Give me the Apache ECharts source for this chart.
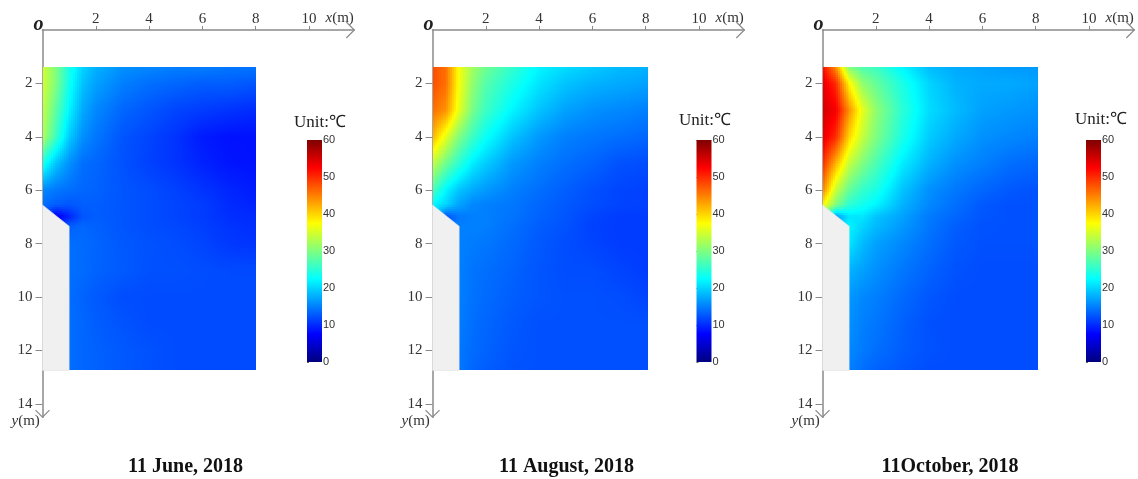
<!DOCTYPE html>
<html><head><meta charset="utf-8">
<style>html,body{margin:0;padding:0;background:#fff}#c{width:1138px;height:479px}</style>
<script src="https://cdn.jsdelivr.net/npm/echarts@6/dist/echarts.min.js"></script>
</head><body><div id="c"></div>
<script>
// Sampled positions (m)
const yRows = [1.37,2,3,4,5,6,6.55,7,7.35,8,9,10,11,12,12.75];
const xColsJune = [0,0.5,1,1.5,2,3,4,5,6,7,8];
const xColsAug  = [0,0.5,1,1.5,2,3,4,5,6,7,8.08];
const xColsOct  = [0,0.5,1,1.5,2,3,4,5,6,7,8.08];
// Temperature (°C); rows follow yRows, columns follow xCols
const tempJune = [
[35,30,24,20,18,16,15.5,15,15,14.5,14.5],
[35,30,23.5,19,17,15,14,13.5,13,13,12.5],
[34,28,22,17.5,15.5,13.5,12.5,11.5,11,10.5,10],
[33,26,19.5,16,14.5,12.5,11.5,10.5,9,8.5,8.5],
[24,19,16,14,13.5,12.3,11.3,10.5,9.5,8.7,8.5],
[15.5,14.5,14,13.5,13.3,12.5,12,11.3,10.5,9.7,9],
[14,13,12.5,13,13,12.5,12,11.5,11,10,9.5],
[13,6.5,9.5,12.5,13,12.5,12,11.5,11,10.2,10],
[13,10.5,13,13.5,13.2,12.5,12,11.7,11.2,10.5,10.2],
[14,14,14,13.8,13.4,12.7,12.3,12,11.5,10.8,10.5],
[14,14,14,13.8,13.3,12.8,12.2,12.2,12,11.8,11.8],
[14.2,14.2,14,13.3,12.8,12,11.9,11.9,11.9,11.9,11.9],
[14.2,14.2,14,13.5,13,12.4,11.9,11.9,11.9,11.9,11.9],
[14.3,14.3,14,13.5,13.2,12.7,12.3,11.9,11.9,11.9,11.9],
[14.3,14.3,14,13.5,13.2,12.7,12.2,11.9,11.9,11.9,11.9]];
const tempAug = [
[48,46,37,32,29,25.5,22,20.5,19.5,18.5,18],
[48,46,37,31,27.5,24,21,19,18,17.5,17],
[46,44,36,29.5,26,22,19,17,16,15.5,15],
[42,36,30,26,23,19,16.5,15,14.5,14,13.5],
[34,29,25,21.5,19.5,16.5,15,14,13.3,12.3,12],
[27,22,19,17.5,16.5,15,14,13,12.2,11.5,11.3],
[22,20,17,15.5,15,14.5,13.5,12.7,12,11.5,11.3],
[22,12,14.5,15,15,14.3,13.3,12.5,11.5,11,11],
[20,15,15,15,15,14,13,12.3,11.3,11,11],
[15,15,15,14.8,14.5,13.7,12.7,12,11.5,11,11],
[15,15,15,14.3,14,13.3,12.5,12,12,11.5,11],
[15,15,15,14.2,13.8,13,12.5,12.2,12.2,12,11.5],
[14.8,14.8,14.8,14,13.5,12.7,12.2,12.2,12.2,12.2,12.2],
[14.8,14.8,14.5,13.8,13.3,12.5,12.2,12.2,12.2,12.2,12.2],
[14.8,14.8,14.5,13.5,13,12.3,12.2,12.2,12.2,12.2,12.2]];
const tempOct = [
[52,44,30,27,26,22,18.5,17.5,17,16.5,16.5],
[54,50,38,31,28.5,24,20,18,17.5,17.5,17],
[55,53,44,36,31,25,20.5,18.5,17,16.5,16],
[54,50,40,34,30,24,19.5,17.5,16,15.5,15],
[50,42,34,30,27,21.5,18,16,15,14,13.5],
[45,34,28.5,25.5,24,19,16,14.5,13.5,12.7,12.3],
[38,30,25,23.5,22,18,15.5,14,12.7,12.2,12.2],
[30,16,21,21,19,17,14.7,13.5,12.5,12.2,12.2],
[25,20,22,20,18.5,16.5,14.5,13,12.3,12.2,12.2],
[21,21,21,18.5,17,15.5,14,12.7,12.2,12.2,12.2],
[20,20,18,17,16,14.5,13.3,12.3,12,12,12],
[18,18,16.5,15.5,15,13.7,12.6,12,12,12,12],
[17,17,16,15,14.5,13.2,12.2,12,12,12,12],
[16.5,16.5,15.5,14.7,14,13,12.3,12,12,12,12],
[16.5,16.5,15,14,13.3,12.6,12,12,12,12,12]];
const wallOutline = [[0,6.55],[1,7.35],[1,12.75],[0,12.75]];
const xTicks = [2,4,6,8,10];
const yTicks = [2,4,6,8,10,12,14];
const colorbarTicks = [0,10,20,30,40,50,60];
const captions = ['11 June, 2018','11 August, 2018','11October, 2018'];

const xMax = 11.7, yMax = 14.5;
const panels = [
 {xs:xColsJune,t:tempJune,left:42.5,bar:307,cap:185.5,unitX:319,unitY:122},
 {xs:xColsAug,t:tempAug,left:432.5,bar:696.5,cap:566.5,unitX:704,unitY:120},
 {xs:xColsOct,t:tempOct,left:822.5,bar:1086,cap:950,unitX:1100,unitY:119}
];

const jet = [[0,[0,0,127]],[7.5,[0,0,255]],[22.5,[0,255,255]],[37.5,[255,255,0]],[52.5,[255,0,0]],[60,[127,0,0]]];
function jetColor(v){
  v=Math.max(0,Math.min(60,v));
  for(let i=1;i<jet.length;i++){
    if(v<=jet[i][0]){
      const a=jet[i-1],b=jet[i],t=(v-a[0])/(b[0]-a[0]);
      return 'rgb('+a[1].map((c,k)=>Math.round(c+(b[1][k]-c)*t)).join(',')+')';
    }
  }
  return 'rgb(127,0,0)';
}
const axisGray='#8a8a8a', textGray='#333', serif='"Liberation Serif","Times New Roman",serif', sans='"Liberation Sans",Arial,sans-serif';
const grid=[],xAxis=[],yAxis=[],series=[],graphic=[];
panels.forEach((p,i)=>{
  const g=i*2, gb=i*2+1;
  grid.push({left:p.left,top:30,width:xMax*26.65,height:yMax*26.7,containLabel:false});
  grid.push({left:p.bar,top:140,width:15,height:222,containLabel:false});
  xAxis.push({type:'value',gridIndex:g,position:'top',min:0,max:xMax,splitLine:{show:false},
    axisLine:{show:true,onZero:false,lineStyle:{color:axisGray,width:1.5}},
    axisTick:{show:true,customValues:xTicks,length:4,lineStyle:{color:axisGray}},
    axisLabel:{customValues:xTicks,margin:3,color:textGray,fontFamily:serif,fontSize:15}});
  yAxis.push({type:'value',gridIndex:g,inverse:true,min:0,max:yMax,splitLine:{show:false},
    axisLine:{show:true,onZero:false,lineStyle:{color:axisGray,width:1.5}},
    axisTick:{show:true,customValues:yTicks,length:7,lineStyle:{color:axisGray}},
    axisLabel:{customValues:yTicks,margin:10,color:textGray,fontFamily:serif,fontSize:15}});
  xAxis.push({type:'value',gridIndex:gb,min:0,max:1,show:false});
  yAxis.push({type:'value',gridIndex:gb,position:'right',min:0,max:60,splitLine:{show:false},
    axisLine:{show:false},
    axisTick:{show:true,customValues:colorbarTicks,length:2,lineStyle:{color:'#666'}},
    axisLabel:{customValues:colorbarTicks,margin:1,color:textGray,fontFamily:sans,fontSize:11}});

  // temperature field: one item per sampled cell, shaded smoothly between its corners
  const cells=[];
  for(let r=0;r<yRows.length-1;r++)for(let c=0;c<p.xs.length-1;c++){
    cells.push([p.xs[c],yRows[r],p.xs[c+1],yRows[r+1],p.t[r][c],p.t[r][c+1],p.t[r+1][c],p.t[r+1][c+1]]);
  }
  series.push({type:'custom',xAxisIndex:g,yAxisIndex:g,coordinateSystem:'cartesian2d',silent:true,animation:false,z:2,
    encode:{x:[0,2],y:[1,3]},data:cells,clip:false,
    renderItem(params,api){
      const a=api.coord([api.value(0),api.value(1)]), b=api.coord([api.value(2),api.value(3)]);
      const v00=api.value(4),v10=api.value(5),v01=api.value(6),v11=api.value(7);
      const x0=Math.round(a[0]),x1=Math.round(b[0]),y0=Math.round(a[1]),y1=Math.round(b[1]);
      const step=2,children=[];
      for(let py=y0;py<y1;py+=step){
        const h=Math.min(step,y1-py), ty=(py+h/2-a[1])/(b[1]-a[1]);
        for(let px=x0;px<x1;px+=step){
          const w=Math.min(step,x1-px), tx=(px+w/2-a[0])/(b[0]-a[0]);
          const v=(v00*(1-tx)+v10*tx)*(1-ty)+(v01*(1-tx)+v11*tx)*ty;
          children.push({type:'rect',shape:{x:px,y:py,width:w,height:h},style:{fill:jetColor(v)},silent:true});
        }
      }
      return {type:'group',children};
    }});
  // wall block
  series.push({type:'custom',xAxisIndex:g,yAxisIndex:g,silent:true,animation:false,z:3,clip:false,
    encode:{x:0,y:1},data:wallOutline,
    renderItem(params,api){
      if(params.dataIndex!==0) return null;
      return {type:'polygon',shape:{points:wallOutline.map(q=>api.coord(q))},
        style:{fill:'#f0f0f0',stroke:'#e2e2e2',lineWidth:0.6}};
    }});
  // axis arrow heads
  series.push({type:'custom',xAxisIndex:g,yAxisIndex:g,silent:true,animation:false,z:4,clip:false,
    encode:{x:0,y:1},data:[[xMax,0],[0,yMax]],
    renderItem(params,api){
      const tip=api.coord([api.value(0),api.value(1)]);
      const pts=params.dataIndex===0
        ?[[tip[0]-8,tip[1]-8],tip,[tip[0]-8,tip[1]+8]]
        :[[tip[0]-7,tip[1]-7],tip,[tip[0]+7,tip[1]-7]];
      return {type:'polyline',shape:{points:pts},style:{fill:'none',stroke:axisGray,lineWidth:1.2}};
    }});
  // colour bar
  series.push({type:'custom',xAxisIndex:gb,yAxisIndex:gb,silent:true,animation:false,z:2,clip:false,
    encode:{y:0},data:[[0,60]],
    renderItem(params,api){
      const lo=api.coord([0,api.value(0)]),hi=api.coord([1,api.value(1)]);
      return {type:'rect',shape:{x:lo[0],y:hi[1],width:hi[0]-lo[0],height:lo[1]-hi[1]},
        style:{fill:new echarts.graphic.LinearGradient(0,1,0,0,jet.map(s=>({offset:s[0]/60,color:jetColor(s[0])})))}};
    }});
  const px=p.left;
  graphic.push(
    {type:'text',left:px-9,top:15,silent:true,style:{text:'o',font:'italic bold 20px '+serif,fill:'#222'}},
    {type:'text',left:px+283,top:11,silent:true,style:{text:'{i|x}(m)',font:'15px '+serif,fill:textGray,rich:{i:{font:'italic 15px '+serif,fill:textGray}}}},
    {type:'text',left:px-31,top:414,silent:true,style:{text:'{i|y}(m)',font:'15px '+serif,fill:textGray,rich:{i:{font:'italic 15px '+serif,fill:textGray}}}},
    {type:'text',left:p.unitX-25,top:p.unitY-8,silent:true,style:{text:'Unit:\u2103',font:'17px '+serif,fill:'#222'}},
    {type:'text',x:p.cap,y:467,silent:true,style:{text:captions[i],align:'center',verticalAlign:'middle',font:'bold 20px '+serif,fill:'#111'}}
  );
});
const chart=echarts.init(document.getElementById('c'),null,{renderer:'canvas'});
chart.setOption({animation:false,backgroundColor:'#fff',grid,xAxis,yAxis,series,graphic});
</script></body></html>
